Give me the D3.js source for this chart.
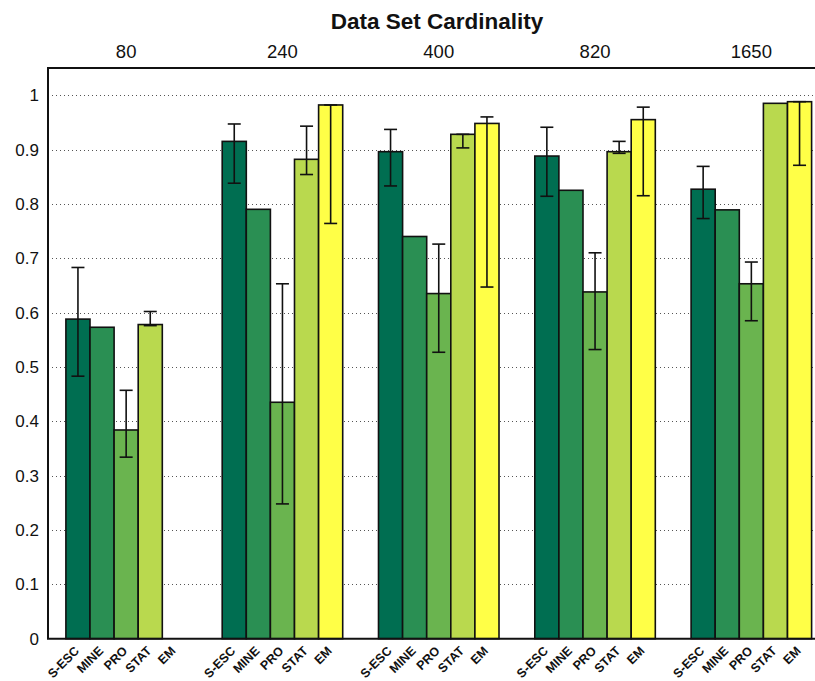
<!DOCTYPE html>
<html>
<head>
<meta charset="utf-8">
<script src="https://cdn.jsdelivr.net/npm/d3@7"></script>
<style>
  html, body { margin: 0; padding: 0; background: #fff; }
  svg { display: block; font-family: "Liberation Sans", Arial, Helvetica, sans-serif; }
</style>
</head>
<body>
<svg id="chart" width="815" height="681"></svg>
<script>
// Data set sizes (group labels along the top)
const cardinalities = ["80", "240", "400", "820", "1650"];
// Methods compared in every group
const methods = ["S-ESC", "MINE", "PRO", "STAT", "EM"];
// Mean score per method, one array per method (null = no result)
const sesc = [0.588, 0.915, 0.896, 0.888, 0.827];
const mine = [0.573, 0.790, 0.740, 0.825, 0.789];
const pro  = [0.384, 0.435, 0.635, 0.638, 0.653];
const stat = [0.578, 0.882, 0.928, 0.896, 0.985];
const em   = [null,  0.982, 0.948, 0.955, 0.988];
// Error range (low, high) per method; null where none is shown
const sescErr = [[0.483, 0.683], [0.838, 0.947], [0.833, 0.937], [0.814, 0.941], [0.773, 0.869]];
const mineErr = [null, null, null, null, null];
const proErr  = [[0.334, 0.457], [0.248, 0.653], [0.527, 0.726], [0.532, 0.710], [0.585, 0.693]];
const statErr = [[0.576, 0.602], [0.854, 0.943], [0.903, 0.928], [0.893, 0.915], null];
const emErr   = [null, [0.764, 0.982], [0.647, 0.960], [0.815, 0.978], [0.871, 0.988]];
// Y axis ticks
const yTicks = [0, 0.1, 0.2, 0.3, 0.4, 0.5, 0.6, 0.7, 0.8, 0.9, 1];
const yTickLabels = ["0", "0.1", "0.2", "0.3", "0.4", "0.5", "0.6", "0.7", "0.8", "0.9", "1"];
const colors = ["#006e51", "#2a8f53", "#6ab44f", "#b9d94e", "#ffff47"];

const series = [sesc, mine, pro, stat, em];
const errors = [sescErr, mineErr, proErr, statErr, emErr];

const svg = d3.select("#chart");
const plotLeft = 48, plotTop = 68, plotBottom = 638.7;
const groupStep = 156.3;

// Group positions 1..5, axis runs from 0.5 to 5.5 (right part falls outside the frame)
const x = d3.scaleLinear().domain([0.5, 5.5]).range([plotLeft, plotLeft + 5 * groupStep]);
const y = d3.scaleLinear().domain([0, 1.05]).range([plotBottom, plotTop]);
const barW = x(1 + 0.1542) - x(1);

const plot = svg.append("g");

// Dotted horizontal grid
plot.selectAll("line.grid")
  .data(yTicks.filter(t => t > 0))
  .join("line")
  .attr("class", "grid")
  .attr("x1", plotLeft).attr("x2", 815)
  .attr("y1", d => Math.round(y(d)) + 0.5).attr("y2", d => Math.round(y(d)) + 0.5)
  .attr("stroke", "#555")
  .attr("stroke-width", 1)
  .attr("stroke-dasharray", "1,3");

// Bars
const barData = [];
cardinalities.forEach((c, gi) => {
  methods.forEach((m, mi) => {
    const v = series[mi][gi];
    const cx = x(gi + 1) + (mi - 2) * barW;
    barData.push({ gi, mi, v, cx, err: errors[mi][gi] });
  });
});

plot.selectAll("rect.bar")
  .data(barData.filter(d => d.v !== null))
  .join("rect")
  .attr("class", "bar")
  .attr("x", d => d.cx - barW / 2)
  .attr("width", barW)
  .attr("y", d => y(d.v))
  .attr("height", d => y(0) - y(d.v))
  .attr("fill", d => colors[d.mi])
  .attr("stroke", "#111")
  .attr("stroke-width", 1.6);

// Error bars
const capHalf = 6.5;
const eb = plot.selectAll("g.err")
  .data(barData.filter(d => d.err))
  .join("g")
  .attr("class", "err")
  .attr("stroke", "#111")
  .attr("stroke-width", 1.6);
eb.append("line")
  .attr("x1", d => d.cx).attr("x2", d => d.cx)
  .attr("y1", d => y(d.err[0])).attr("y2", d => y(d.err[1]));
eb.append("line")
  .attr("x1", d => d.cx - capHalf).attr("x2", d => d.cx + capHalf)
  .attr("y1", d => y(d.err[0])).attr("y2", d => y(d.err[0]));
eb.append("line")
  .attr("x1", d => d.cx - capHalf).attr("x2", d => d.cx + capHalf)
  .attr("y1", d => y(d.err[1])).attr("y2", d => y(d.err[1]));

// Axis frame: left, bottom, top
const frame = svg.append("g").attr("stroke", "#111").attr("stroke-width", 2).attr("fill", "none");
frame.append("line").attr("x1", plotLeft).attr("x2", plotLeft).attr("y1", y(1.05)).attr("y2", y(0));
frame.append("line").attr("x1", plotLeft - 1).attr("x2", 815).attr("y1", y(0)).attr("y2", y(0));
frame.append("line").attr("x1", plotLeft - 1).attr("x2", 815).attr("y1", y(1.05)).attr("y2", y(1.05));

// Y tick labels
svg.append("g").selectAll("text")
  .data(yTicks)
  .join("text")
  .attr("x", 39)
  .attr("y", d => y(d))
  .attr("dy", "0.36em")
  .attr("text-anchor", "end")
  .attr("font-size", 17)
  .attr("fill", "#111")
  .text((d, i) => yTickLabels[i]);

// Group labels above the plot
svg.append("g").selectAll("text")
  .data(cardinalities)
  .join("text")
  .attr("x", (d, i) => x(i + 1))
  .attr("y", 58)
  .attr("text-anchor", "middle")
  .attr("font-size", 18.5)
  .attr("fill", "#111")
  .text(d => d);

// Title
svg.append("text")
  .attr("x", 437)
  .attr("y", 29)
  .attr("text-anchor", "middle")
  .attr("font-size", 22.5)
  .attr("font-weight", "bold")
  .attr("fill", "#111")
  .text("Data Set Cardinality");

// Method labels under every bar, turned 45 degrees
const c45 = Math.SQRT1_2;
const lbl = svg.append("g").selectAll("g.lbl")
  .data(barData)
  .join("g")
  .attr("class", "lbl")
  .attr("transform", d => `matrix(${c45},${-c45},${c45},${c45},${d.cx + 2},${plotBottom + 13})`);
lbl.append("text")
  .attr("text-anchor", "end")
  .attr("font-size", 12.5)
  .attr("font-weight", "bold")
  .attr("fill", "#111")
  .text(d => methods[d.mi]);
</script>
</body>
</html>
